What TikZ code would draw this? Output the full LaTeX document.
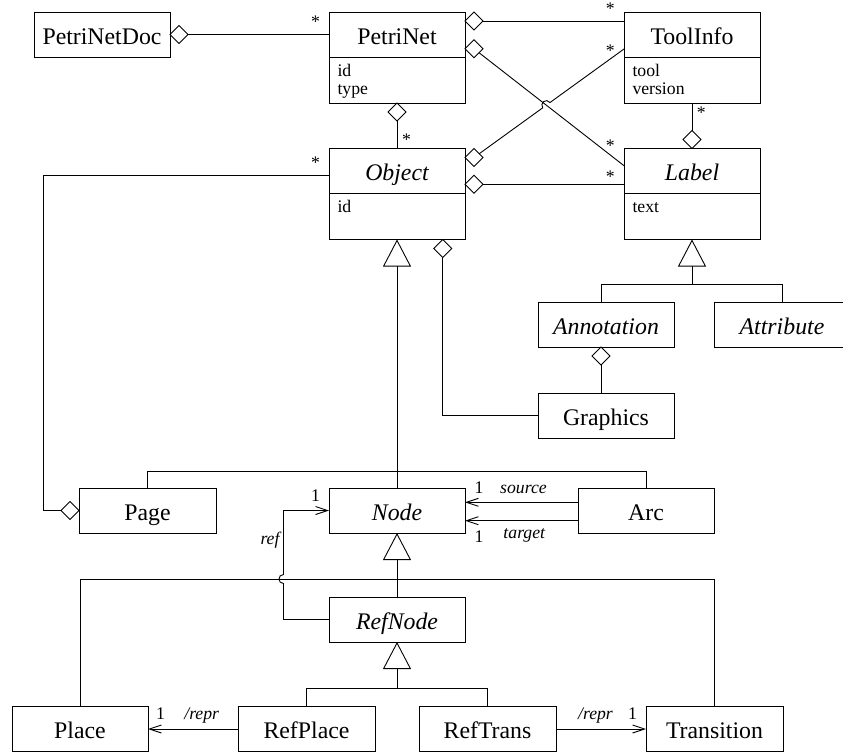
\documentclass[tikz,border=0pt]{standalone}
\usepackage{fontspec}
\setmainfont{Liberation Serif}
\usetikzlibrary{arrows.meta,shapes.geometric,calc}
\begin{document}
\begin{tikzpicture}[x=1pt,y=-1pt,line width=0.9pt,
 every node/.style={outer sep=0pt},
 cls/.style={draw,minimum width=136pt,minimum height=45pt,inner sep=0pt,text height=19pt,text depth=0pt,font=\fontsize{23.8}{28}\selectfont},
 icls/.style={cls,font=\fontsize{23.8}{28}\selectfont\itshape},
 comp/.style={draw,minimum width=136pt,minimum height=46pt,inner sep=0pt,anchor=north},
 attr/.style={anchor=base west,inner sep=0pt,font=\fontsize{17.7}{20}\selectfont},
 lbl/.style={inner sep=0pt,font=\fontsize{17.7}{20}\selectfont},
 ilbl/.style={inner sep=0pt,anchor=base,font=\fontsize{17.7}{20}\selectfont\itshape},
 agg/.style={draw,fill=white,diamond,aspect=1,minimum width=18pt,minimum height=18pt,inner sep=0pt},
 gen/.style={-{Triangle[open,length=27pt,width=28pt]}},
 nav/.style={-{Straight Barb[length=12pt,width=8pt]}},
 jump/.style={bend left=90,looseness=1.7}
]
\useasboundingbox (0,0) rectangle (843,753);

% classes
\node[cls] (petrinetdoc) at (102,34.5) {PetriNetDoc};
\node[cls] (petrinet) at (397,34.5) {PetriNet};
\node[comp] (petrinetA) at (petrinet.south) {};
\node[cls] (toolinfo) at (692,34.5) {ToolInfo};
\node[comp] (toolinfoA) at (toolinfo.south) {};
\node[icls] (object) at (397,171) {Object};
\node[comp] (objectA) at (object.south) {};
\node[icls] (label) at (692,171) {Label};
\node[comp] (labelA) at (label.south) {};
\node[icls] (annotation) at (606,324.5) {Annotation};
\node[icls] (attribute) at (782,324.5) {Attribute};
\node[cls] (graphics) at (606,415.5) {Graphics};
\node[cls,minimum width=137pt] (page) at (147.5,510.5) {Page};
\node[icls] (node) at (397,510.5) {Node};
\node[cls] (arc) at (646,510.5) {Arc};
\node[icls] (refnode) at (397,619.5) {RefNode};
\node[cls] (place) at (80,729) {Place};
\node[cls,minimum width=137pt] (refplace) at (306.5,729) {RefPlace};
\node[cls,minimum width=137pt] (reftrans) at (487.5,729) {RefTrans};
\node[cls,minimum width=137pt] (transition) at (714.5,729) {Transition};

% attributes
\node[attr] (pnid) at (337.5,76) {id};
\node[attr] (pntype) at (337.5,94) {type};
\node[attr] (titool) at (632.5,76) {tool};
\node[attr] (tiver) at (632.5,94) {version};
\node[attr] (objid) at (337.5,212) {id};
\node[attr] (lbltext) at (632.5,212) {text};

% aggregation diamonds
\node[agg,anchor=west] (dDoc) at (petrinetdoc.east) {};
\node[agg,anchor=west] (dPa) at ([yshift=13.5pt]petrinet.east) {};
\node[agg,anchor=west] (dPb) at ([yshift=-14.3pt]petrinet.east) {};
\node[agg,anchor=north] (dPs) at (petrinetA.south) {};
\node[agg,anchor=west] (dOa) at ([yshift=13.5pt]object.east) {};
\node[agg,anchor=west] (dOb) at ([yshift=-13.2pt]object.east) {};
\node[agg,anchor=north] (dOs) at ([xshift=45.7pt]objectA.south) {};
\node[agg,anchor=south] (dL) at (label.north) {};
\node[agg,anchor=north] (dAn) at ([xshift=-5pt]annotation.south) {};
\node[agg,anchor=east] (dPg) at (page.west) {};

% helper coordinates
\coordinate (tiB) at ([yshift=-14.5pt]toolinfo.west);
\coordinate (lbA) at ([yshift=5.3pt]label.west);
\coordinate (X) at (intersection of dOa.center--tiB and dPb.center--lbA);

% aggregations
\draw (dDoc.east) -- (petrinet.west);
\draw (dPa.east) -- (dPa.east -| toolinfo.west);
\draw (dPb) -- (lbA);
\draw (dOa) -- ($(X)!4.5pt!(dOa.center)$) to[jump] ($(X)!4.5pt!(tiB)$) -- (tiB);
\draw (dOb.east) -- (dOb.east -| label.west);
\draw (dPs.south) -- (object.north);
\draw (toolinfoA.south) -- (dL.north);
\draw (dOs.south) |- (graphics.west);
\draw (dAn.south) -- (dAn.south |- graphics.north);
\draw ([yshift=-4pt]object.west) -| ([xshift=-18pt]dPg.west) -- (dPg.west);

% generalizations
\draw[gen] (node.north) -- (objectA.south);
\draw (page.north) -- ++(0,-17) -| (arc.north);
\coordinate (lb) at ($(labelA.south)+(0,45)$);
\draw[gen] (lb) -- (labelA.south);
\draw ([xshift=-5pt]annotation.north) |- (lb) -| (attribute.north);
\draw[gen] (refnode.north) -- (node.south);
\coordinate (nb) at ($(node.south)+(0,46)$);
\draw (place.north) |- (nb) -| (transition.north);
\coordinate (rb) at ($(refnode.south)+(0,46)$);
\draw[gen] (rb) -- (refnode.south);
\draw (refplace.north) |- (rb) -| (reftrans.north);

% navigable associations
\draw[nav] ([yshift=8.2pt]arc.west) -- ([yshift=8.2pt]node.east);
\draw[nav] ([yshift=-10.2pt]arc.west) -- ([yshift=-10.2pt]node.east);
\coordinate (r1) at ($(refnode.west)+(-45.5,0)$);
\coordinate (r2) at ($(node.west)+(-45.5,0)$);
\coordinate (rx) at (r1 |- nb);
\draw[nav] (refnode.west) -- (r1) -- ($(rx)+(0,4.5)$) to[jump] ($(rx)+(0,-4.5)$) -- (r2) -- (node.west);
\draw[nav] (refplace.west) -- (place.east);
\draw[nav] (reftrans.east) -- (transition.west);

% multiplicities and roles
\node[lbl] (s1) at (315.5,22) {*};
\node[lbl] (s2) at (406.5,140) {*};
\node[lbl] (s3) at (315.5,163) {*};
\node[lbl] (s4) at (610.3,9) {*};
\node[lbl] (s5) at (610.3,50.3) {*};
\node[lbl] (s6) at (701.3,113) {*};
\node[lbl] (s7) at (610.3,145.3) {*};
\node[lbl] (s8) at (610.3,177) {*};
\node[lbl] (m1) at (315.5,496) {1};
\node[ilbl] (mref) at (270,544) {ref};
\node[lbl] (m2) at (479,488) {1};
\node[ilbl] (msrc) at (523.5,493.3) {source};
\node[lbl] (m3) at (479,537) {1};
\node[ilbl] (mtgt) at (524.3,538.3) {target};
\node[lbl] (m4) at (160.5,714) {1};
\node[ilbl] (mr1) at (201.7,719) {/repr};
\node[ilbl] (mr2) at (595.5,719) {/repr};
\node[lbl] (m5) at (632.5,714) {1};
\end{tikzpicture}
\end{document}
